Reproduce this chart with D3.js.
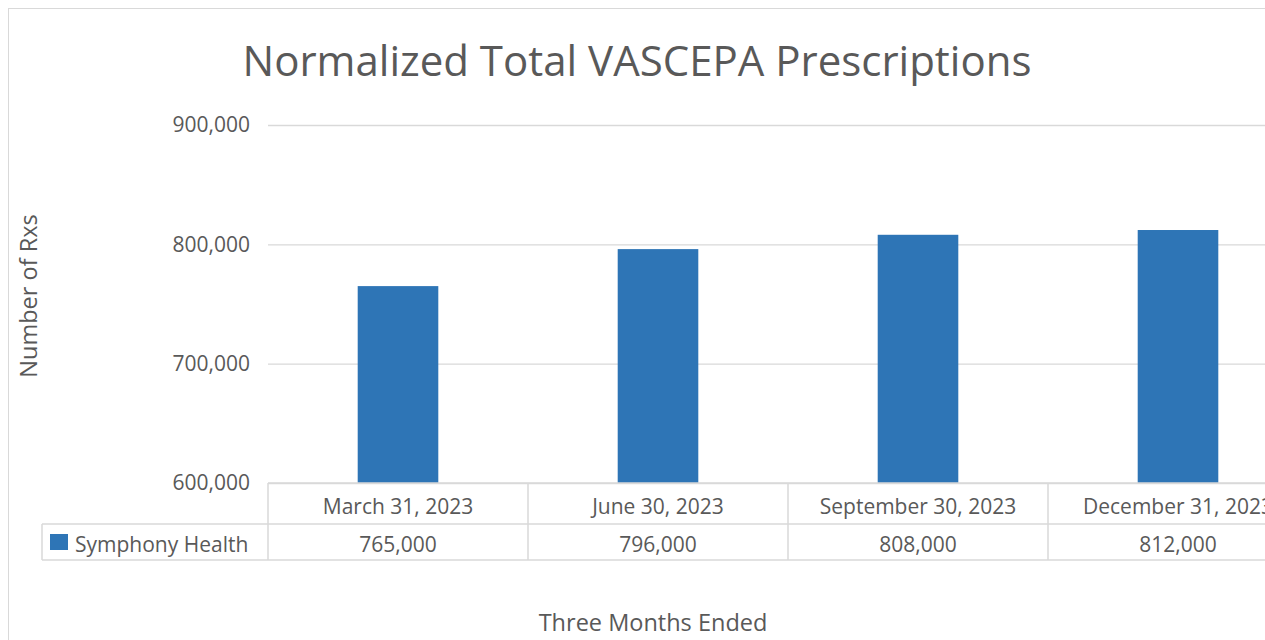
<!DOCTYPE html>
<html>
<head>
<meta charset="utf-8">
<script src="https://cdnjs.cloudflare.com/ajax/libs/d3/7.8.5/d3.min.js"></script>
<style>
  body { margin: 0; background: #fff; overflow: hidden; }
  svg text { font-family: "Open Sans", "Liberation Sans", sans-serif; fill: #595959; }
</style>
</head>
<body>
<svg id="chart"></svg>
<script>
// chart data
let categories = ['March 31, 2023', 'June 30, 2023', 'September 30, 2023', 'December 31, 2023'];
let seriesName = 'Symphony Health';
let values = [765000, 796000, 808000, 812000];
let yTicks = [600000, 700000, 800000, 900000];

let svg = d3.select('#chart');
let width = 1265;
let height = 640;

// plot area (the last category runs off the right edge, as in the picture)
let plotLeft = 268;
let plotTop = 125;
let plotBottom = 483;
let catWidth = 260;
let rowH1 = 41;
let rowH2 = 36;
let headLeft = 42;

let gridColor = '#d9d9d9';
let barColor = '#2e75b6';

let xScale;
let yScale;

let drawCanvas = () => {
    svg.attr('width', width).attr('height', height);
    // outer chart border
    svg.append('rect')
        .attr('x', 8.5).attr('y', 8.5)
        .attr('width', width + 40).attr('height', height + 40)
        .attr('fill', 'none')
        .attr('stroke', gridColor);
};

let generateScales = () => {
    xScale = d3.scaleBand()
        .domain(categories)
        .range([plotLeft, plotLeft + catWidth * categories.length])
        .paddingInner(0.69)
        .paddingOuter(0.345);
    yScale = d3.scaleLinear()
        .domain([600000, 900000])
        .range([plotBottom, plotTop]);
};

let drawGrid = () => {
    let yAxis = d3.axisLeft(yScale)
        .tickValues(yTicks)
        .tickFormat(d3.format(','))
        .tickSize(-(catWidth * categories.length))
        .tickPadding(18);

    let g = svg.append('g')
        .attr('transform', 'translate(' + plotLeft + ', 0)')
        .call(yAxis);
    g.select('.domain').remove();
    g.selectAll('.tick line').attr('stroke', gridColor).attr('stroke-width', 1.3);
    g.selectAll('.tick text')
        .attr('font-size', 21)
        .style('font-family', '"Open Sans", sans-serif')
        .attr('fill', '#595959');
};

let drawBars = () => {
    svg.append('g')
        .selectAll('rect')
        .data(values)
        .enter()
        .append('rect')
        .attr('x', (d, i) => xScale(categories[i]))
        .attr('y', d => yScale(d))
        .attr('width', xScale.bandwidth())
        .attr('height', d => plotBottom - yScale(d))
        .attr('fill', barColor);
};

let drawTable = () => {
    let t = svg.append('g');
    let right = plotLeft + catWidth * categories.length;
    let y0 = plotBottom;
    let y1 = y0 + rowH1;
    let y2 = y1 + rowH2;

    // horizontal lines
    t.append('line').attr('x1', plotLeft).attr('x2', right).attr('y1', y0).attr('y2', y0);
    t.append('line').attr('x1', headLeft).attr('x2', right).attr('y1', y1).attr('y2', y1);
    t.append('line').attr('x1', headLeft).attr('x2', right).attr('y1', y2).attr('y2', y2);
    // vertical lines
    t.append('line').attr('x1', headLeft).attr('x2', headLeft).attr('y1', y1).attr('y2', y2);
    categories.forEach((c, i) => {
        let x = plotLeft + catWidth * i;
        t.append('line').attr('x1', x).attr('x2', x).attr('y1', y0).attr('y2', y2);
    });
    t.selectAll('line').attr('stroke', gridColor).attr('stroke-width', 1.5);

    // category labels
    t.selectAll('text.cat')
        .data(categories)
        .enter()
        .append('text')
        .attr('class', 'cat')
        .attr('x', d => xScale(d) + xScale.bandwidth() / 2)
        .attr('y', y0 + rowH1 / 2 + 3)
        .attr('dy', '0.36em')
        .attr('text-anchor', 'middle')
        .attr('font-size', 21)
        .text(d => d);

    // values row
    t.selectAll('text.val')
        .data(values)
        .enter()
        .append('text')
        .attr('class', 'val')
        .attr('x', (d, i) => xScale(categories[i]) + xScale.bandwidth() / 2)
        .attr('y', y1 + rowH2 / 2 + 2)
        .attr('dy', '0.36em')
        .attr('text-anchor', 'middle')
        .attr('font-size', 21)
        .text(d => d3.format(',')(d));

    // legend key + series name
    t.append('rect')
        .attr('x', 50).attr('y', y1 + 10)
        .attr('width', 18).attr('height', 16)
        .attr('fill', barColor);
    t.append('text')
        .attr('x', 75).attr('y', y1 + rowH2 / 2 + 2)
        .attr('dy', '0.36em')
        .attr('font-size', 21)
        .text(seriesName);
};

let drawTitles = () => {
    svg.append('text')
        .attr('x', 637).attr('y', 61)
        .attr('dy', '0.35em')
        .attr('text-anchor', 'middle')
        .attr('font-size', 42)
        .text('Normalized Total VASCEPA Prescriptions');

    svg.append('text')
        .attr('transform', 'translate(29, 296) rotate(-90)')
        .attr('dy', '0.35em')
        .attr('text-anchor', 'middle')
        .attr('font-size', 23.5)
        .text('Number of Rxs');

    svg.append('text')
        .attr('x', 653).attr('y', 623)
        .attr('dy', '0.35em')
        .attr('text-anchor', 'middle')
        .attr('font-size', 23.5)
        .text('Three Months Ended');
};

drawCanvas();
generateScales();
drawGrid();
drawBars();
drawTable();
drawTitles();
</script>
</body>
</html>
